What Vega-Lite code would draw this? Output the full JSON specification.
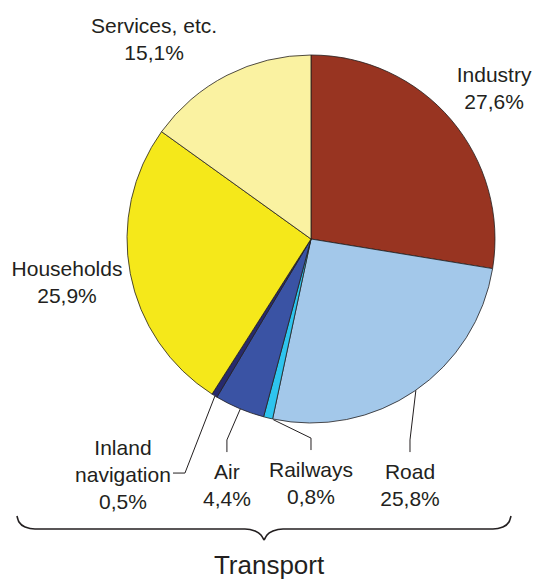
{
  "$schema": "https://vega.github.io/schema/vega-lite/v6.json",
  "width": 534,
  "height": 579,
  "autosize": "none",
  "padding": 0,
  "background": "white",
  "config": {"view": {"stroke": null}},
  "datasets": {
    "pie": [
      {"k": 1, "sector": "Industry", "share": 27.6},
      {"k": 2, "sector": "Road", "share": 25.8},
      {"k": 3, "sector": "Railways", "share": 0.8},
      {"k": 4, "sector": "Air", "share": 4.4},
      {"k": 5, "sector": "Inland navigation", "share": 0.5},
      {"k": 6, "sector": "Households", "share": 25.9},
      {"k": 7, "sector": "Services, etc.", "share": 15.1}
    ],
    "labels": [
      {"sector": "Services, etc.", "text": "Services, etc.\n15,1%", "u": -85.3, "v": 112.0},
      {"sector": "Industry", "text": "Industry\n27,6%", "u": 99.5, "v": 85.3},
      {"sector": "Households", "text": "Households\n25,9%", "u": -132.6, "v": -20.1},
      {"sector": "Inland navigation", "text": "Inland\nnavigation\n0,5%", "u": -102.2, "v": -117.4},
      {"sector": "Air", "text": "Air\n4,4%", "u": -45.7, "v": -130.4},
      {"sector": "Railways", "text": "Railways\n0,8%", "u": 0, "v": -129.3},
      {"sector": "Road", "text": "Road\n25,8%", "u": 53.8, "v": -130.4}
    ],
    "title": [
      {"text": "Transport", "u": -22.8, "v": -182.1}
    ],
    "leaders": [
      {"seg": "Road", "i": 1, "u": 57.0, "v": -82.3},
      {"seg": "Road", "i": 2, "u": 53.8, "v": -109.2},
      {"seg": "Road", "i": 3, "u": 53.8, "v": -115.8},
      {"seg": "Railways", "i": 1, "u": -20.5, "v": -98.2},
      {"seg": "Railways", "i": 2, "u": 0, "v": -108.2},
      {"seg": "Railways", "i": 3, "u": 0, "v": -114.7},
      {"seg": "Air", "i": 1, "u": -38.4, "v": -92.3},
      {"seg": "Air", "i": 2, "u": -45.7, "v": -109.2},
      {"seg": "Air", "i": 3, "u": -45.7, "v": -115.8},
      {"seg": "Inland", "i": 1, "u": -52.2, "v": -85.3},
      {"seg": "Inland", "i": 2, "u": -68.5, "v": -127.2},
      {"seg": "Inland", "i": 3, "u": -75.0, "v": -127.2}
    ],
    "brace": [
      {"half": "L", "i": 1, "u": -159.8, "v": -150.5},
      {"half": "L", "i": 2, "u": -158.7, "v": -153.8},
      {"half": "L", "i": 3, "u": -155.4, "v": -156.5},
      {"half": "L", "i": 4, "u": -150.0, "v": -157.6},
      {"half": "L", "i": 5, "u": -35.9, "v": -157.6},
      {"half": "L", "i": 6, "u": -30.4, "v": -158.7},
      {"half": "L", "i": 7, "u": -27.2, "v": -160.9},
      {"half": "L", "i": 8, "u": -25.5, "v": -163.6},
      {"half": "R", "i": 1, "u": -25.5, "v": -163.6},
      {"half": "R", "i": 2, "u": -23.9, "v": -160.9},
      {"half": "R", "i": 3, "u": -20.7, "v": -158.7},
      {"half": "R", "i": 4, "u": -15.2, "v": -157.6},
      {"half": "R", "i": 5, "u": 98.9, "v": -157.6},
      {"half": "R", "i": 6, "u": 104.3, "v": -156.5},
      {"half": "R", "i": 7, "u": 107.6, "v": -153.8},
      {"half": "R", "i": 8, "u": 108.7, "v": -150.5}
    ]
  },
  "layer": [
    {
      "data": {"name": "pie"},
      "mark": {"type": "arc", "radius": 184, "stroke": "#231F20", "strokeWidth": 0.8},
      "encoding": {
        "theta": {"field": "share", "type": "quantitative", "stack": true},
        "order": {"field": "k", "type": "quantitative"},
        "color": {
          "field": "sector", "type": "nominal", "legend": null,
          "scale": {
            "domain": ["Industry", "Road", "Railways", "Air", "Inland navigation", "Households", "Services, etc."],
            "range": ["#983421", "#A3C8EA", "#2EC4EE", "#3A53A4", "#272A6D", "#F5E81A", "#FAF2A1"]
          }
        },
        "x": {"datum": 0, "type": "quantitative", "axis": null, "scale": {"domain": [-169.02, 121.2], "nice": false, "zero": false}},
        "y": {"datum": 0, "type": "quantitative", "axis": null, "scale": {"domain": [-184.78, 129.89], "nice": false, "zero": false}}
      }
    },
    {
      "data": {"name": "leaders"},
      "mark": {"type": "line", "color": "#231F20", "strokeWidth": 1},
      "encoding": {
        "x": {"field": "u", "type": "quantitative", "axis": null, "scale": {"domain": [-169.02, 121.2], "nice": false, "zero": false}},
        "y": {"field": "v", "type": "quantitative", "axis": null, "scale": {"domain": [-184.78, 129.89], "nice": false, "zero": false}},
        "detail": {"field": "seg", "type": "nominal"},
        "order": {"field": "i", "type": "quantitative"}
      }
    },
    {
      "data": {"name": "brace"},
      "mark": {"type": "line", "color": "#231F20", "strokeWidth": 1.6, "interpolate": "monotone"},
      "encoding": {
        "x": {"field": "u", "type": "quantitative", "axis": null, "scale": {"domain": [-169.02, 121.2], "nice": false, "zero": false}},
        "y": {"field": "v", "type": "quantitative", "axis": null, "scale": {"domain": [-184.78, 129.89], "nice": false, "zero": false}},
        "detail": {"field": "half", "type": "nominal"},
        "order": {"field": "i", "type": "quantitative"}
      }
    },
    {
      "data": {"name": "labels"},
      "mark": {"type": "text", "align": "center", "baseline": "alphabetic", "fontSize": 21, "font": "Liberation Sans", "lineHeight": 27, "lineBreak": "\n", "color": "#231F20"},
      "encoding": {
        "x": {"field": "u", "type": "quantitative", "axis": null, "scale": {"domain": [-169.02, 121.2], "nice": false, "zero": false}},
        "y": {"field": "v", "type": "quantitative", "axis": null, "scale": {"domain": [-184.78, 129.89], "nice": false, "zero": false}},
        "text": {"field": "text", "type": "nominal"}
      }
    },
    {
      "data": {"name": "title"},
      "mark": {"type": "text", "align": "center", "baseline": "alphabetic", "fontSize": 26, "font": "Liberation Sans", "color": "#231F20"},
      "encoding": {
        "x": {"field": "u", "type": "quantitative", "axis": null, "scale": {"domain": [-169.02, 121.2], "nice": false, "zero": false}},
        "y": {"field": "v", "type": "quantitative", "axis": null, "scale": {"domain": [-184.78, 129.89], "nice": false, "zero": false}},
        "text": {"field": "text", "type": "nominal"}
      }
    }
  ]
}
